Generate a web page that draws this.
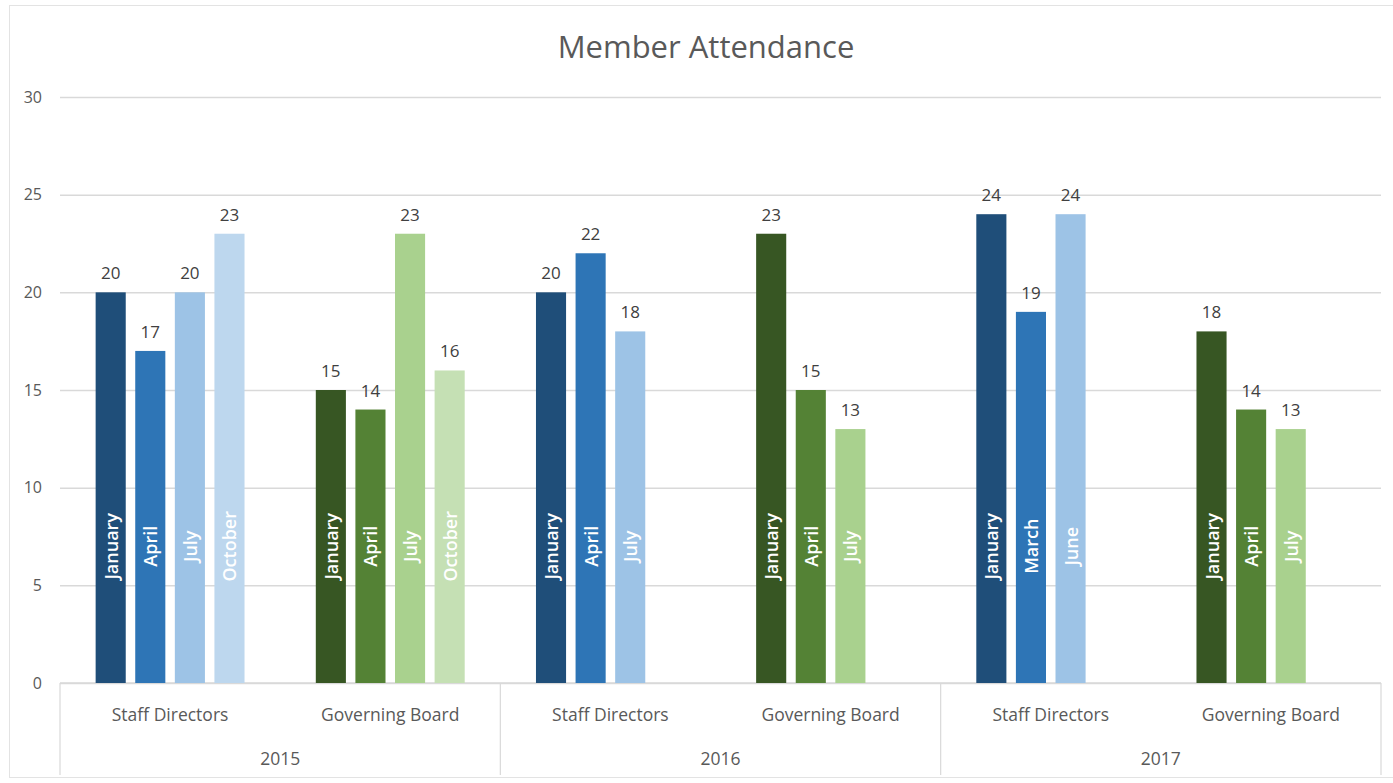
<!DOCTYPE html>
<html>
<head>
<meta charset="utf-8">
<script src="https://cdn.jsdelivr.net/npm/d3@7"></script>
<style>
  body { margin: 0; background: #fff; }
  text { font-family: 'Open Sans', 'Noto Sans', sans-serif; }
</style>
</head>
<body>
<div id="chart"></div>
<script>
const years = ['2015', '2016', '2017'];
const groups = ['Staff Directors', 'Governing Board'];
const monthLabels = [
  ['January', 'April', 'July', 'October'],
  ['January', 'April', 'July', 'October'],
  ['January', 'April', 'July'],
  ['January', 'April', 'July'],
  ['January', 'March', 'June'],
  ['January', 'April', 'July']
];
const values = [
  [20, 17, 20, 23],
  [15, 14, 23, 16],
  [20, 22, 18],
  [23, 15, 13],
  [24, 19, 24],
  [18, 14, 13]
];
const yTicks = [0, 5, 10, 15, 20, 25, 30];
const blues = ['#1f4e79', '#2e75b6', '#9dc3e6', '#bdd7ee'];
const greens = ['#375623', '#548235', '#a9d18e', '#c5e0b4'];

const width = 1393;
const height = 783;
const plot = { left: 60, right: 1381, top: 97, bottom: 683 };

const svg = d3
  .select('#chart')
  .append('svg')
  .attr('width', width)
  .attr('height', height);

// outer chart border
svg
  .append('rect')
  .attr('x', 9.5)
  .attr('y', 5.5)
  .attr('width', 1400)
  .attr('height', 772)
  .attr('fill', 'none')
  .attr('stroke', '#e3e3e3');

const categories = [];
years.forEach((yr) => groups.forEach((g) => categories.push(yr + '|' + g)));

const x0 = d3
  .scaleBand()
  .domain(categories)
  .range([plot.left, plot.right]);

const x1 = d3
  .scaleBand()
  .domain([0, 1, 2, 3])
  .range([0, x0.bandwidth()])
  .paddingInner(0.24)
  .paddingOuter(0.9);

const yScale = d3
  .scaleLinear()
  .domain([0, 30])
  .range([plot.bottom, plot.top]);

// gridlines + y labels
const yAxis = d3
  .axisLeft(yScale)
  .tickValues(yTicks)
  .tickSize(-(plot.right - plot.left))
  .tickPadding(18);

const gy = svg
  .append('g')
  .attr('class', 'y-axis')
  .attr('transform', `translate(${plot.left},0)`)
  .call(yAxis);
gy.select('.domain').remove();
gy.selectAll('line').attr('stroke', '#d9d9d9').attr('stroke-width', 1.5);
gy.selectAll('text')
  .attr('fill', '#595959')
  .style('font-size', '16px');

// category axis line and year separators
svg
  .append('line')
  .attr('x1', plot.left)
  .attr('x2', plot.right)
  .attr('y1', plot.bottom)
  .attr('y2', plot.bottom)
  .attr('stroke', '#d9d9d9')
  .attr('stroke-width', 1.5);

const yearEdges = years.map((yr) => x0(yr + '|' + groups[0])).concat([plot.right]);
svg
  .selectAll('.sep')
  .data(yearEdges)
  .enter()
  .append('line')
  .attr('class', 'sep')
  .attr('x1', (d) => d)
  .attr('x2', (d) => d)
  .attr('y1', plot.bottom)
  .attr('y2', 775)
  .attr('stroke', '#d9d9d9')
  .attr('stroke-width', 1.2);

// bars
const barData = [];
categories.forEach((cat, ci) => {
  const palette = ci % 2 === 0 ? blues : greens;
  values[ci].forEach((v, si) => {
    barData.push({ cat, si, value: v, month: monthLabels[ci][si], color: palette[si] });
  });
});

const bars = svg
  .selectAll('.bar')
  .data(barData)
  .enter()
  .append('g')
  .attr('class', 'bar')
  .attr('transform', (d) => `translate(${x0(d.cat) + x1(d.si)},0)`);

bars
  .append('rect')
  .attr('x', 0)
  .attr('y', (d) => yScale(d.value))
  .attr('width', x1.bandwidth())
  .attr('height', (d) => plot.bottom - yScale(d.value))
  .attr('fill', (d) => d.color);

bars
  .append('text')
  .attr('x', x1.bandwidth() / 2)
  .attr('y', (d) => yScale(d.value) - 13)
  .attr('text-anchor', 'middle')
  .attr('fill', '#404040')
  .style('font-size', '17px')
  .text((d) => d.value);

bars
  .append('text')
  .attr('transform', `translate(${x1.bandwidth() / 2 + 7},${yScale(7)}) rotate(-90)`)
  .attr('text-anchor', 'middle')
  .attr('fill', '#ffffff')
  .style('font-size', '18px')
  .style('font-weight', 600)
  .text((d) => d.month);

// group labels
svg
  .selectAll('.group-label')
  .data(categories)
  .enter()
  .append('text')
  .attr('class', 'group-label')
  .attr('x', (d) => x0(d) + x0.bandwidth() / 2)
  .attr('y', 721)
  .attr('text-anchor', 'middle')
  .attr('fill', '#595959')
  .style('font-size', '17.5px')
  .text((d) => d.split('|')[1]);

// year labels
svg
  .selectAll('.year-label')
  .data(years)
  .enter()
  .append('text')
  .attr('class', 'year-label')
  .attr('x', (d) => x0(d + '|' + groups[0]) + x0.bandwidth())
  .attr('y', 765)
  .attr('text-anchor', 'middle')
  .attr('fill', '#595959')
  .style('font-size', '17.5px')
  .text((d) => d);

// title
svg
  .append('text')
  .attr('x', 706)
  .attr('y', 58)
  .attr('text-anchor', 'middle')
  .attr('fill', '#595959')
  .style('font-size', '31px')
  .text('Member Attendance');
</script>
</body>
</html>
